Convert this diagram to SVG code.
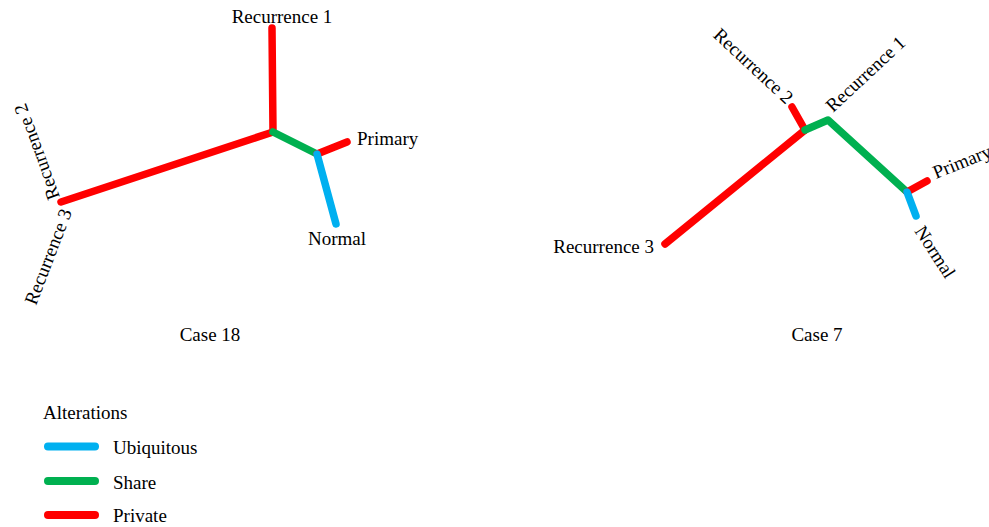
<svg xmlns="http://www.w3.org/2000/svg" width="989" height="527" viewBox="0 0 989 527">
<style>
text{font-family:"Liberation Serif","Times New Roman",serif;font-size:19px;fill:#000}
.e{fill:none;stroke-width:7.5;stroke-linecap:round;stroke-linejoin:round}
.r{stroke:#FF0000}.g{stroke:#00B050}.b{stroke:#00B0F0}
.lg{fill:none;stroke-width:8;stroke-linecap:round}
</style>
<rect width="989" height="527" fill="#fff"/>
<g id="connectors">
  <!-- Case 18 -->
  <line class="e r" x1="273" y1="132" x2="272" y2="28"/>
  <line class="e r" x1="273" y1="132" x2="61" y2="202"/>
  <line class="e g" x1="273" y1="132" x2="317" y2="154"/>
  <line class="e r" x1="317" y1="154" x2="347" y2="142"/>
  <line class="e b" x1="317" y1="154" x2="336" y2="224"/>
  <!-- Case 7 -->
  <line class="e r" x1="805" y1="130" x2="792" y2="107"/>
  <line class="e r" x1="805" y1="130" x2="665" y2="244"/>
  <polyline class="e g" points="805,130 828,120 907,192"/>
  <line class="e r" x1="907" y1="192" x2="927" y2="181"/>
  <line class="e b" x1="907" y1="192" x2="916" y2="216"/>
</g>
<g id="case18-rec1"><text x="282" y="23" text-anchor="middle">Recurrence 1</text></g>
<g id="case18-rec2"><text transform="translate(60,197) rotate(-110)">Recurrence 2</text></g>
<g id="case18-rec3"><text transform="translate(36,306) rotate(-69)">Recurrence 3</text></g>
<g id="case18-primary"><text x="357" y="145">Primary</text></g>
<g id="case18-normal"><text x="308" y="245">Normal</text></g>
<g id="case18-title"><text x="210" y="341" text-anchor="middle">Case 18</text></g>
<g id="case7-rec1"><text transform="translate(833,113) rotate(-43)">Recurrence 1</text></g>
<g id="case7-rec2"><text transform="translate(786,105) rotate(43)" text-anchor="end">Recurrence 2</text></g>
<g id="case7-rec3"><text x="654" y="253" text-anchor="end">Recurrence 3</text></g>
<g id="case7-primary"><text transform="translate(936,179) rotate(-22)">Primary</text></g>
<g id="case7-normal"><text transform="translate(914,231) rotate(57)">Normal</text></g>
<g id="case7-title"><text x="817" y="341" text-anchor="middle">Case 7</text></g>
<g id="legend">
  <text x="43" y="419">Alterations</text>
  <line class="lg b" x1="48" y1="446.5" x2="95" y2="446.5"/>
  <text x="113" y="454">Ubiquitous</text>
  <line class="lg g" x1="48" y1="481" x2="95" y2="481"/>
  <text x="113" y="489">Share</text>
  <line class="lg r" x1="48" y1="515" x2="95" y2="515"/>
  <text x="113" y="522">Private</text>
</g>
</svg>
